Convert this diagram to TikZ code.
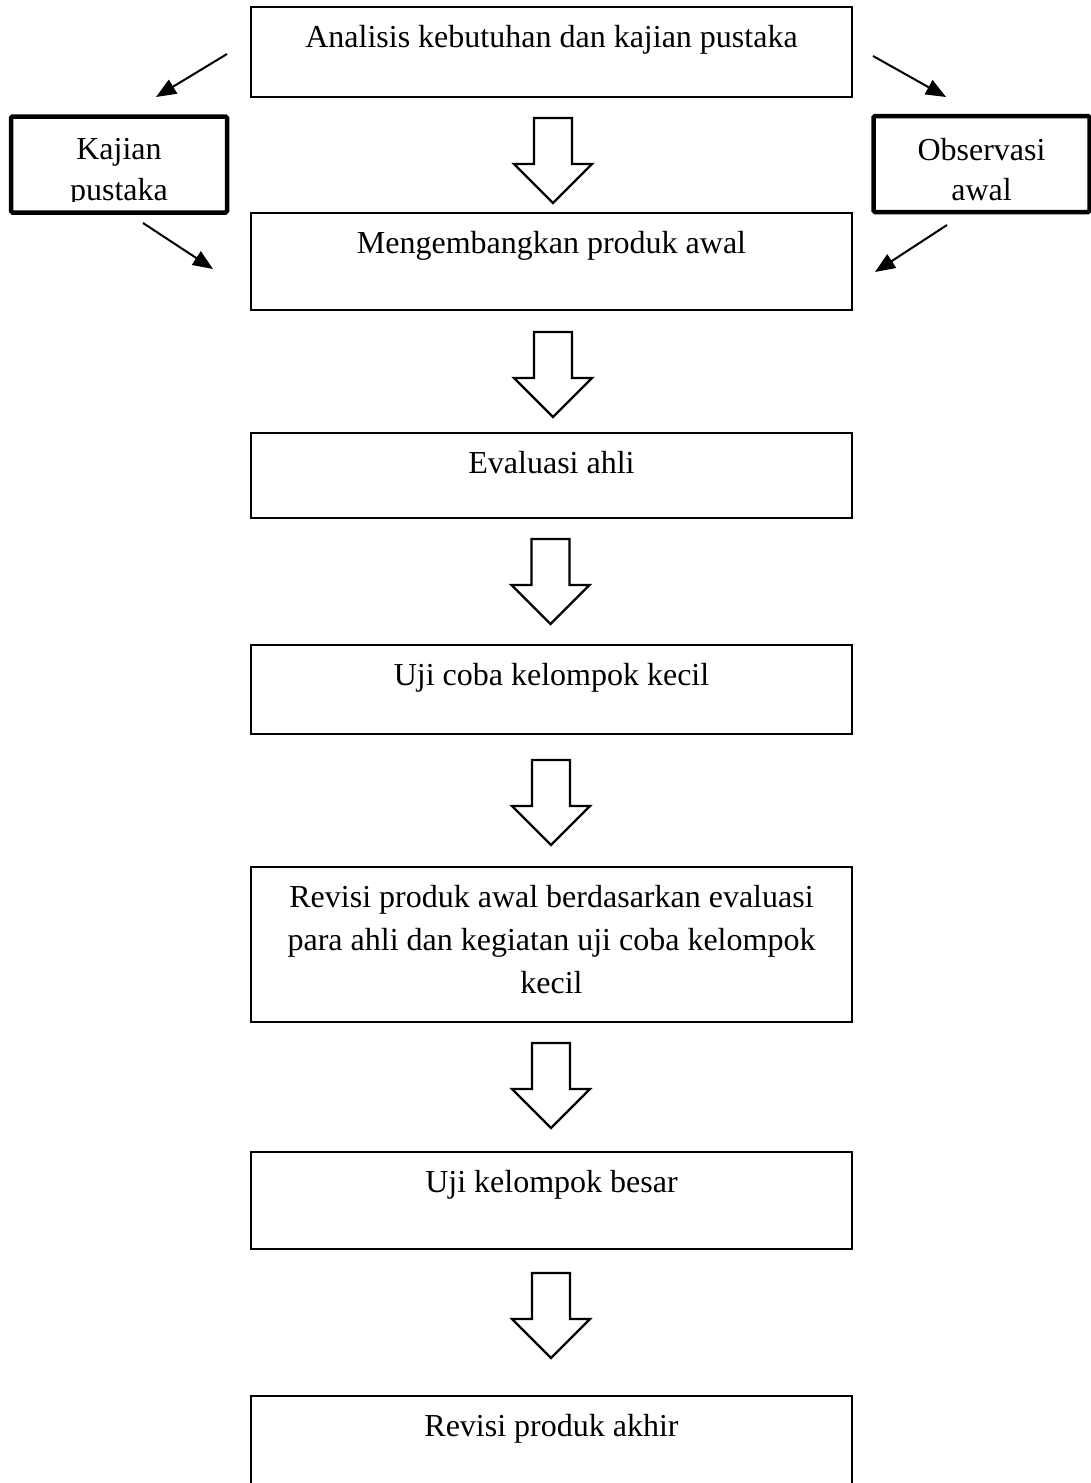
\documentclass[tikz,border=0pt]{standalone}
\usepackage{fontspec}
\setmainfont{Liberation Serif}
\usetikzlibrary{arrows.meta}
\begin{document}
\begin{tikzpicture}[x=1pt,y=-1pt,
  box/.style={draw,line width=2.2pt,inner sep=0pt,minimum width=601pt},
  sidebox/.style={draw,line width=4.5pt,inner sep=0pt,minimum width=216pt,minimum height=96pt,rounded corners=1.5pt},
  txt/.style={anchor=base,inner sep=0pt,font=\fontsize{32}{43}\selectfont},
  thinarrow/.style={line width=2pt,-{Triangle[length=20pt,width=16pt]}},
  barrow/.style={draw,line width=2.2pt,fill=white,line join=miter},
  blockarrow/.pic={\path[barrow] (-19,0) -- (19,0) -- (19,46) -- (39,46) -- (0,85) -- (-39,46) -- (-19,46) -- cycle;}]

\clip (0,0) rectangle (1091,1483);
\fill[white] (0,0) rectangle (1091,1483);

% main boxes
\node[box,minimum height=90pt]  (b1) at (551.5,52) {};
\node[box,minimum height=97pt]  (b2) at (551.5,261.5) {};
\node[box,minimum height=85pt]  (b3) at (551.5,475.5) {};
\node[box,minimum height=89pt]  (b4) at (551.5,689.5) {};
\node[box,minimum height=155pt] (b5) at (551.5,944.5) {};
\node[box,minimum height=97pt]  (b6) at (551.5,1200.5) {};
\node[box,minimum height=134pt] (b7) at (551.5,1463) {};

% texts
\node[txt] (t1) at (551.5,47) {Analisis kebutuhan dan kajian pustaka};
\node[txt] (t2) at (551.5,253) {Mengembangkan produk awal};
\node[txt] (t3) at (551.5,473) {Evaluasi ahli};
\node[txt] (t4) at (551.5,685) {Uji coba kelompok kecil};
\node[txt] (t5a) at (551.5,907) {Revisi produk awal berdasarkan evaluasi};
\node[txt] (t5b) at (551.5,950) {para ahli dan kegiatan uji coba kelompok};
\node[txt] (t5c) at (551.5,993) {kecil};
\node[txt] (t6) at (551.5,1192) {Uji kelompok besar};
\node[txt] (t7) at (551.5,1436) {Revisi produk akhir};

% side boxes
\node[sidebox] (kp) at (119,164.5) {};
\node[sidebox] (oa) at (981.5,164) {};
\begin{scope}
  \clip (0,0) rectangle (1091,201);
  \node[txt] (kp1) at (119,159) {Kajian};
  \node[txt] (kp2) at (119,200) {pustaka};
  \node[txt] (oa1) at (981.5,160) {Observasi};
  \node[txt] (oa2) at (981.5,200) {awal};
\end{scope}

% block arrows
\coordinate (a1) at (553,118);
\coordinate (a2) at (553,332);
\coordinate (a3) at (550.5,539);
\coordinate (a4) at (551,760);
\coordinate (a5) at (551,1043);
\coordinate (a6) at (551,1273);
\foreach \a in {a1,a2,a3,a4,a5,a6} { \pic at (\a) {blockarrow}; }

% thin arrows
\coordinate (l1s) at (227,54);  \coordinate (l1e) at (156,97);
\coordinate (l2s) at (143,223); \coordinate (l2e) at (213,269);
\coordinate (r1s) at (873,56);  \coordinate (r1e) at (946,97);
\coordinate (r2s) at (947,225); \coordinate (r2e) at (875,272);
\draw[thinarrow] (l1s) -- (l1e);
\draw[thinarrow] (l2s) -- (l2e);
\draw[thinarrow] (r1s) -- (r1e);
\draw[thinarrow] (r2s) -- (r2e);
\end{tikzpicture}
\end{document}
